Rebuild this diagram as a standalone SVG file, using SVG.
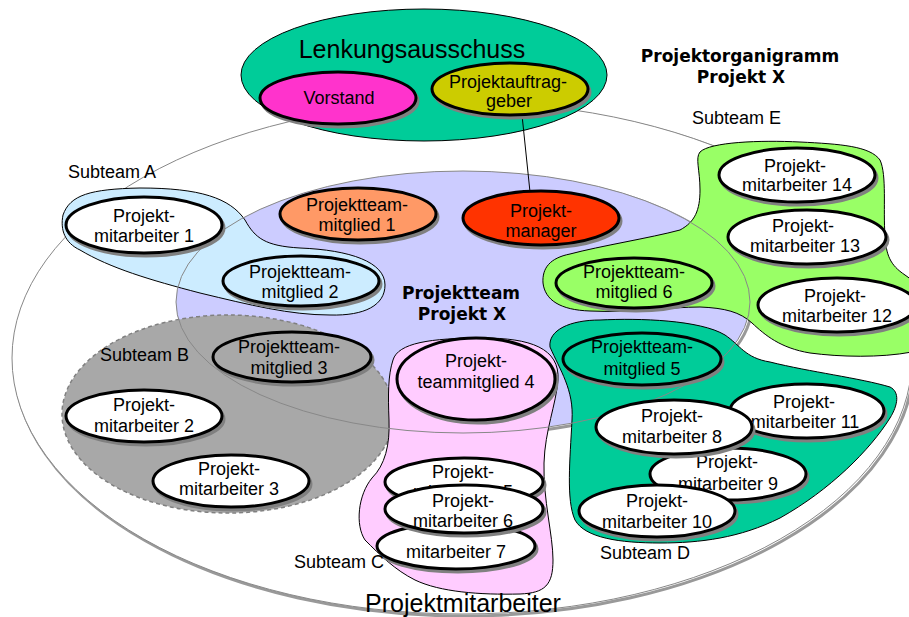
<svg xmlns="http://www.w3.org/2000/svg" width="909" height="617" viewBox="0 0 909 617">
<defs>
<style>
.t{font-family:"Liberation Sans",Arial,sans-serif;font-size:18px;text-anchor:middle;fill:#000}
.lbl{font-family:"Liberation Sans",Arial,sans-serif;font-size:18px;fill:#000}
.big{font-family:"Liberation Sans",Arial,sans-serif;font-size:25px;text-anchor:middle;fill:#000}
.bold{font-family:"DejaVu Sans",sans-serif;font-weight:bold;font-size:17px;text-anchor:middle;fill:#000}
.sh{fill:#808080;stroke:#808080;stroke-width:3}
.nd{stroke:#000;stroke-width:3}
.blob{stroke:#000;stroke-width:1}
.w{fill:#fff}
</style>
</defs>
<rect width="909" height="617" fill="#fff"/>

<!-- Projektmitarbeiter outer ellipse -->
<g id="projektmitarbeiter-area">
<ellipse cx="464" cy="360" rx="450" ry="256" fill="none" stroke="#999" stroke-width="3"/>
<ellipse cx="462" cy="358" rx="450" ry="256" fill="#fff" stroke="#888" stroke-width="1"/>
</g>

<!-- Lenkungsausschuss -->
<g id="lenkungsausschuss">
<ellipse cx="424" cy="75" rx="183" ry="66" fill="#00CC99" stroke="#000" stroke-width="1"/>
<text class="big" x="412" y="58">Lenkungsausschuss</text>
</g>

<!-- Projektteam ellipse -->
<g id="projektteam-area">
<ellipse cx="465" cy="304" rx="287" ry="131" fill="none" stroke="#999" stroke-width="3"/>
<ellipse cx="463" cy="302" rx="287" ry="131" fill="#CCCCFF"/>
</g>

<!-- Subteams -->
<g id="subteam-a">
<path class="blob" fill="#CCECFF" d="M 63,215 C 70,195 90,189 140,188 C 200,188 230,198 245,220 C 255,238 265,246 300,248 C 350,250 385,262 385,285 C 385,305 365,316 330,315 C 290,315 250,305 200,293 C 150,280 110,268 80,250 C 65,243 60,230 63,215 Z"/>
</g>
<g id="subteam-b">
<ellipse cx="228" cy="414" rx="166" ry="99" fill="#A8A8A8" stroke="#808080" stroke-width="1.5" stroke-dasharray="4 3"/>
</g>
<g id="subteam-c">
<path class="blob" fill="#FFCCFF" d="M 393,360 C 398,343 430,338 483,338 C 530,338 560,348 558,380 C 556,405 545,430 544,463 C 543,500 553,535 553,560 C 553,585 545,593 520,594 C 480,595 440,592 415,580 C 395,570 380,555 365,540 C 355,525 358,495 372,478 C 385,465 390,445 389,420 C 388,395 388,375 393,360 Z"/>
</g>
<g id="subteam-d">
<path class="blob" fill="#00CC99" d="M 550,347 C 548,330 570,320 600,320 C 640,318 700,320 725,335 C 740,345 745,358 770,362 C 810,372 860,378 890,387 C 900,392 898,405 890,418 C 870,450 830,490 780,518 C 740,538 700,543 660,543 C 620,543 585,538 575,520 C 566,500 570,460 572,420 C 574,390 560,370 550,347 Z"/>
</g>
<g id="subteam-e">
<path class="blob" fill="#99FF66" d="M 700,152 C 710,142 760,140 800,142 C 840,144 870,146 880,160 C 887,175 883,210 885,235 C 886,255 890,265 905,275 L 912,280 L 912,352 C 880,358 840,357 810,353 C 780,348 765,335 752,323 C 740,312 725,308 700,307 C 670,307 630,313 590,311 C 560,310 545,300 543,283 C 542,268 550,258 570,254 C 600,246 650,238 680,230 C 695,222 700,210 700,190 C 700,170 695,158 700,152 Z"/>
</g>

<!-- Projektteam outline on top -->
<ellipse cx="463" cy="302" rx="287" ry="131" fill="none" stroke="#888" stroke-width="1"/>

<!-- Connectors -->
<g id="connectors">
<line x1="522" y1="115" x2="530" y2="192" stroke="#000" stroke-width="1"/>
</g>

<!-- Nodes -->
<g id="vorstand">
<ellipse class="sh" cx="340" cy="101" rx="78" ry="26"/>
<ellipse class="nd" fill="#FF33CC" cx="338" cy="98" rx="78" ry="26"/>
<text class="t" x="339" y="104">Vorstand</text>
</g>
<g id="projektauftraggeber">
<ellipse class="sh" cx="512" cy="92" rx="78" ry="26"/>
<ellipse class="nd" fill="#CCCC00" cx="510" cy="89" rx="78" ry="26"/>
<text class="t" x="508" y="88">Projektauftrag-</text>
<text class="t" x="509" y="107">geber</text>
</g>
<g id="projektteammitglied-1">
<ellipse class="sh" cx="360" cy="217" rx="78" ry="26"/>
<ellipse class="nd" fill="#FF9966" cx="358" cy="214" rx="78" ry="26"/>
<text class="t" x="357" y="211">Projektteam-</text>
<text class="t" x="357" y="231">mitglied 1</text>
</g>
<g id="projektmanager">
<ellipse class="sh" cx="543" cy="221" rx="78" ry="27"/>
<ellipse class="nd" fill="#FF3300" cx="541" cy="218" rx="78" ry="27"/>
<text class="t" x="541" y="217">Projekt-</text>
<text class="t" x="541" y="237">manager</text>
</g>
<g id="projektmitarbeiter-1">
<ellipse class="sh" cx="146" cy="228" rx="78" ry="28"/>
<ellipse class="nd w" cx="144" cy="225" rx="78" ry="28"/>
<text class="t" x="144" y="222">Projekt-</text>
<text class="t" x="144" y="242">mitarbeiter 1</text>
</g>
<g id="projektteammitglied-2">
<ellipse class="sh" cx="303" cy="284" rx="78" ry="25"/>
<ellipse class="nd" fill="#CCECFF" cx="301" cy="281" rx="78" ry="25"/>
<text class="t" x="300" y="278">Projektteam-</text>
<text class="t" x="300" y="298">mitglied 2</text>
</g>
<g id="projektteammitglied-6">
<ellipse class="sh" cx="636" cy="286" rx="78" ry="25"/>
<ellipse class="nd" fill="#99FF66" cx="634" cy="283" rx="78" ry="25"/>
<text class="t" x="634" y="278">Projektteam-</text>
<text class="t" x="634" y="298">mitglied 6</text>
</g>
<g id="projektmitarbeiter-14">
<ellipse class="sh" cx="799" cy="178" rx="78" ry="27"/>
<ellipse class="nd w" cx="797" cy="175" rx="78" ry="27"/>
<text class="t" x="795" y="172">Projekt-</text>
<text class="t" x="797" y="191">mitarbeiter 14</text>
</g>
<g id="projektmitarbeiter-13">
<ellipse class="sh" cx="809" cy="240" rx="79" ry="27"/>
<ellipse class="nd w" cx="807" cy="237" rx="79" ry="27"/>
<text class="t" x="803" y="232">Projekt-</text>
<text class="t" x="805" y="252">mitarbeiter 13</text>
</g>
<g id="projektmitarbeiter-12">
<ellipse class="sh" cx="839" cy="308" rx="79" ry="27"/>
<ellipse class="nd w" cx="837" cy="305" rx="79" ry="27"/>
<text class="t" x="835" y="302">Projekt-</text>
<text class="t" x="837" y="322">mitarbeiter 12</text>
</g>
<g id="projektteammitglied-3">
<ellipse class="sh" cx="294" cy="360" rx="79" ry="25"/>
<ellipse class="nd" fill="#A8A8A8" cx="292" cy="357" rx="79" ry="25"/>
<text class="t" x="289" y="353">Projektteam-</text>
<text class="t" x="289" y="374">mitglied 3</text>
</g>
<g id="projektmitarbeiter-2">
<ellipse class="sh" cx="146" cy="419" rx="78" ry="26"/>
<ellipse class="nd w" cx="144" cy="416" rx="78" ry="26"/>
<text class="t" x="144" y="411">Projekt-</text>
<text class="t" x="144" y="432">mitarbeiter 2</text>
</g>
<g id="projektmitarbeiter-3">
<ellipse class="sh" cx="233" cy="484" rx="78" ry="26"/>
<ellipse class="nd w" cx="231" cy="481" rx="78" ry="26"/>
<text class="t" x="229" y="475">Projekt-</text>
<text class="t" x="229" y="495">mitarbeiter 3</text>
</g>
<g id="projektteammitglied-4">
<ellipse class="sh" cx="478" cy="382" rx="79" ry="41"/>
<ellipse class="nd" fill="#FFCCFF" cx="476" cy="379" rx="79" ry="41"/>
<text class="t" x="476" y="367">Projekt-</text>
<text class="t" x="476" y="388">teammitglied 4</text>
</g>
<g id="projektmitarbeiter-5">
<ellipse class="sh" cx="466" cy="485" rx="79" ry="24"/>
<ellipse class="nd w" cx="464" cy="482" rx="79" ry="24"/>
<text class="t" x="463" y="478">Projekt-</text>
<text class="t" x="463" y="498">mitarbeiter 5</text>
</g>
<g id="projektmitarbeiter-7">
<ellipse class="sh" cx="458" cy="549" rx="79" ry="23"/>
<ellipse class="nd w" cx="456" cy="546" rx="79" ry="23"/>
<text class="t" x="456" y="558">mitarbeiter 7</text>
</g>
<g id="projektmitarbeiter-6">
<ellipse class="sh" cx="466" cy="512" rx="79" ry="24"/>
<ellipse class="nd w" cx="464" cy="509" rx="79" ry="24"/>
<text class="t" x="463" y="507">Projekt-</text>
<text class="t" x="463" y="527">mitarbeiter 6</text>
</g>
<g id="projektteammitglied-5">
<ellipse class="sh" cx="644" cy="362" rx="79" ry="26"/>
<ellipse class="nd" fill="#00CC99" cx="642" cy="359" rx="79" ry="26"/>
<text class="t" x="642" y="353">Projektteam-</text>
<text class="t" x="642" y="375">mitglied 5</text>
</g>
<g id="projektmitarbeiter-11">
<ellipse class="sh" cx="809" cy="414" rx="77" ry="27"/>
<ellipse class="nd w" cx="807" cy="411" rx="77" ry="27"/>
<text class="t" x="804" y="408">Projekt-</text>
<text class="t" x="805" y="428">mitarbeiter 11</text>
</g>
<g id="projektmitarbeiter-9">
<ellipse class="sh" cx="730" cy="477" rx="78" ry="26"/>
<ellipse class="nd w" cx="728" cy="474" rx="78" ry="26"/>
<text class="t" x="727" y="468">Projekt-</text>
<text class="t" x="728" y="490">mitarbeiter 9</text>
</g>
<g id="projektmitarbeiter-8">
<ellipse class="sh" cx="676" cy="430" rx="78" ry="27"/>
<ellipse class="nd w" cx="674" cy="427" rx="78" ry="27"/>
<text class="t" x="672" y="422">Projekt-</text>
<text class="t" x="672" y="443">mitarbeiter 8</text>
</g>
<g id="projektmitarbeiter-10">
<ellipse class="sh" cx="659" cy="514" rx="78" ry="26"/>
<ellipse class="nd w" cx="657" cy="511" rx="78" ry="26"/>
<text class="t" x="657" y="507">Projekt-</text>
<text class="t" x="657" y="528">mitarbeiter 10</text>
</g>

<!-- Labels -->
<g id="labels">
<text class="bold" x="740" y="62">Projektorganigramm</text>
<text class="bold" x="741" y="83">Projekt X</text>
<text class="bold" x="461" y="299">Projektteam</text>
<text class="bold" x="462" y="320">Projekt X</text>
<text class="lbl" x="68" y="178">Subteam A</text>
<text class="lbl" x="100" y="361">Subteam B</text>
<text class="lbl" x="294" y="568">Subteam C</text>
<text class="lbl" x="600" y="559">Subteam D</text>
<text class="lbl" x="692" y="124">Subteam E</text>
<text class="big" x="463" y="612">Projektmitarbeiter</text>
</g>
</svg>
